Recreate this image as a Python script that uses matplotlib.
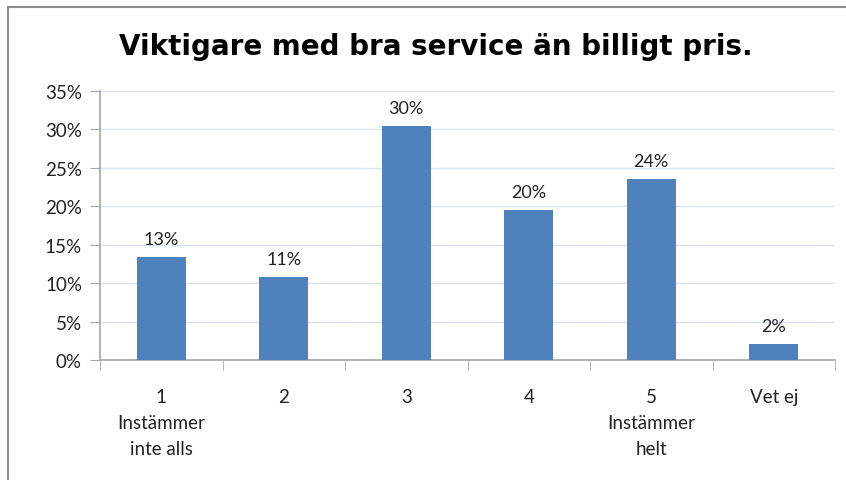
import numpy as np
import matplotlib
matplotlib.use("Agg")
from matplotlib import pyplot as plt
from matplotlib.lines import Line2D

# andelar (%) per svarsalternativ
kategorier = ["1\nInstämmer\ninte alls", "2", "3", "4", "5\nInstämmer\nhelt", "Vet ej"]
andelar = [13.4, 10.8, 30.4, 19.5, 23.6, 2.1]
yticks = [0, 5, 10, 15, 20, 25, 30, 35]

plt.rcParams['font.family'] = ['Lato', 'DejaVu Sans']

fig = plt.figure(figsize=(8.46, 4.81), dpi=100)
ax = fig.add_axes([100/846, 1-361/481, 735/846, 269/481])

x = np.arange(len(andelar))
ax.bar(x, andelar, width=0.4, color="#4F81BD", zorder=3)
for xi, v in zip(x, andelar):
    ax.text(xi, v + 1.3, "%d%%" % round(v), ha="center", va="bottom",
            fontsize=13, color="#222222")

ax.set_xlim(-0.5, len(andelar) - 0.5)
ax.set_ylim(0, 35)
ax.set_yticks(yticks)
ax.set_yticklabels(["%d%%" % t for t in yticks], fontsize=13.5, color="#222222")
ax.yaxis.grid(True, color="#DAE3EF", linewidth=1, zorder=0)

# kategorier som etiketter, tickstreck mellan staplarna
ax.set_xticks(x)
ax.set_xticklabels(kategorier, fontsize=13.5, color="#222222", linespacing=1.65)
ax.tick_params(axis="x", length=0, pad=20)
ax.set_xticks(np.arange(-0.5, len(andelar)), minor=True)
ax.tick_params(axis="x", which="minor", length=7, color="#A6A6A6", direction="out")
ax.tick_params(axis="y", length=7, color="#A6A6A6", pad=6)
for s in ["top", "right"]:
    ax.spines[s].set_visible(False)
for s in ["left", "bottom"]:
    ax.spines[s].set_color("#A6A6A6")
    ax.spines[s].set_linewidth(1.2)

fig.text(436/846, 1-47/481, "Viktigare med bra service än billigt pris.",
         ha="center", va="center", fontsize=20, fontweight="bold",
         family="DejaVu Sans")

# ram runt diagrammet
fig.add_artist(Line2D([8/846, 8/846], [0, 1-8/481], color="#8C8C8C", linewidth=1.5))
fig.add_artist(Line2D([8/846, 1], [1-8/481, 1-8/481], color="#8C8C8C", linewidth=1.5))

fig.savefig("out.png", dpi=100)
